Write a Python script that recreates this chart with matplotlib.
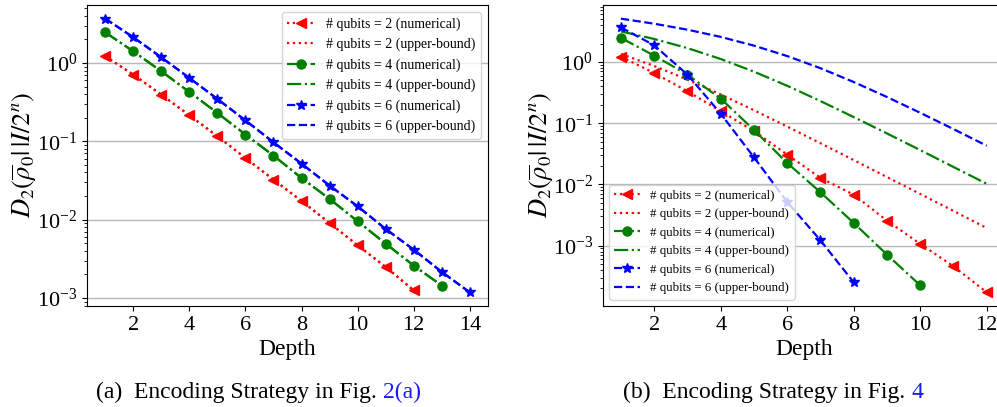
import matplotlib
matplotlib.use("Agg")
import matplotlib.pyplot as plt

plt.rcParams['font.family'] = ['Liberation Serif', 'DejaVu Serif']
plt.rcParams['mathtext.fontset'] = 'stix'

# ---------------- data: (a) Encoding Strategy in Fig. 2(a) ----------------
left_depth_q2 = [1, 2, 3, 4, 5, 6, 7, 8, 9, 10, 11, 12]
left_num_q2 = [1.22, 0.71, 0.394, 0.215, 0.116, 0.0612, 0.0324, 0.0173, 0.00906, 0.0047, 0.00249, 0.00125]
left_ub_q2 = [1.22, 0.71, 0.394, 0.215, 0.116, 0.0612, 0.0324, 0.0173, 0.00906, 0.0047, 0.00249, 0.00125]

left_depth_q4 = [1, 2, 3, 4, 5, 6, 7, 8, 9, 10, 11, 12, 13]
left_num_q4 = [2.46, 1.41, 0.783, 0.426, 0.23, 0.122, 0.0657, 0.034, 0.0184, 0.00952, 0.00494, 0.00259, 0.00144]
left_ub_q4 = [2.46, 1.41, 0.783, 0.426, 0.23, 0.122, 0.0657, 0.034, 0.0184, 0.00952, 0.00494, 0.00259, 0.00144]

left_depth_q6 = [1, 2, 3, 4, 5, 6, 7, 8, 9, 10, 11, 12, 13, 14]
left_num_q6 = [3.68, 2.13, 1.18, 0.644, 0.347, 0.185, 0.097, 0.0519, 0.0272, 0.0148, 0.0076, 0.00414, 0.00215, 0.00118]
left_ub_q6 = [3.68, 2.13, 1.18, 0.644, 0.347, 0.185, 0.097, 0.0519, 0.0272, 0.0148, 0.0076, 0.00414, 0.00215, 0.00118]

# ---------------- data: (b) Encoding Strategy in Fig. 4 ----------------
right_depth_q2 = [1, 2, 3, 4, 5, 6, 7, 8, 9, 10, 11, 12]
right_num_q2 = [1.22, 0.66, 0.332, 0.157, 0.0745, 0.0307, 0.0128, 0.0068, 0.00256, 0.00107, 0.00046, 0.000173]
right_ub_depth = [1, 2, 3, 4, 5, 6, 7, 8, 9, 10, 11, 12]
right_ub_q2 = [1.35, 0.861, 0.516, 0.295, 0.163, 0.0881, 0.0471, 0.025, 0.0132, 0.007, 0.00369, 0.00194]

right_depth_q4 = [1, 2, 3, 4, 5, 6, 7, 8, 9, 10]
right_num_q4 = [2.47, 1.27, 0.621, 0.252, 0.0775, 0.0224, 0.00745, 0.00235, 0.000714, 0.000225]
right_ub_q4 = [3.16, 2.377, 1.686, 1.119, 0.695, 0.409, 0.230, 0.126, 0.0681, 0.0364, 0.0193, 0.01025]

right_depth_q6 = [1, 2, 3, 4, 5, 6, 7, 8]
right_num_q6 = [3.67, 1.87, 0.621, 0.143, 0.0277, 0.00517, 0.00122, 0.000252]
right_ub_q6 = [5.1, 4.22, 3.37, 2.57, 1.85, 1.25, 0.791, 0.471, 0.268, 0.148, 0.0802, 0.0429]

labels = ['# qubits = 2 (numerical)', '# qubits = 2 (upper-bound)',
          '# qubits = 4 (numerical)', '# qubits = 4 (upper-bound)',
          '# qubits = 6 (numerical)', '# qubits = 6 (upper-bound)']
xlabel = 'Depth'
ylabel = r'$D_2(\overline{\rho}_0|\,|I/2^n)$'
left_xticks = [2, 4, 6, 8, 10, 12, 14]
right_xticks = [2, 4, 6, 8, 10, 12]

W, H = 997, 407
fig = plt.figure(figsize=(W / 100, H / 100), dpi=100)


def px_axes(x0, y0, x1, y1):
    return fig.add_axes([x0 / W, 1 - y1 / H, (x1 - x0) / W, (y1 - y0) / H])


axL = px_axes(87, 5, 488, 306)
axR = px_axes(602.7, 5, 1005, 306)


def draw(ax, d2, n2, u2d, u2, d4, n4, u4d, u4, d6, n6, u6d, u6, ylab_x):
    ax.plot(d2, n2, color='red', linestyle=':', marker='<', markersize=7.5, lw=1.6, label=labels[0])
    ax.plot(u2d, u2, color='red', linestyle=':', lw=1.6, label=labels[1])
    ax.plot(d4, n4, color='green', linestyle='-.', marker='o', markersize=6.5, lw=1.6, label=labels[2])
    ax.plot(u4d, u4, color='green', linestyle='-.', lw=1.6, label=labels[3])
    ax.plot(d6, n6, color='blue', linestyle='--', marker='*', markersize=7.5, lw=1.6, label=labels[4])
    ax.plot(u6d, u6, color='blue', linestyle='--', lw=1.6, label=labels[5])
    ax.set_yscale('log')
    ax.yaxis.grid(True, which='major', color='#b8b8b8', lw=1.0)
    ax.set_axisbelow(True)
    ax.tick_params(labelsize=16)
    ax.set_xlabel(xlabel, fontsize=17, labelpad=3)
    ax.set_ylabel(ylabel, fontsize=19)
    ax.yaxis.set_label_coords(ylab_x, 0.5)


draw(axL, left_depth_q2, left_num_q2, left_depth_q2, left_ub_q2,
     left_depth_q4, left_num_q4, left_depth_q4, left_ub_q4,
     left_depth_q6, left_num_q6, left_depth_q6, left_ub_q6, -0.12)
draw(axR, right_depth_q2, right_num_q2, right_ub_depth, right_ub_q2,
     right_depth_q4, right_num_q4, right_ub_depth, right_ub_q4,
     right_depth_q6, right_num_q6, right_ub_depth, right_ub_q6, -0.115)
axL.set_xticks(left_xticks)
axR.set_xticks(right_xticks)
axL.legend(loc='upper right', fontsize=10)
axR.legend(loc='lower left', fontsize=9.3)

# captions
renderer = fig.canvas.get_renderer()


def caption(x_px, black, blue):
    y = 1 - 398 / H
    t = fig.text(x_px / W, y, black, fontsize=17, va='baseline', ha='left')
    bb = t.get_window_extent(renderer)
    fig.text(bb.x1 / W, y, blue, fontsize=17, va='baseline', ha='left', color='#1a1aff')


caption(96, '(a)  Encoding Strategy in Fig. ', '2(a)')
caption(623, '(b)  Encoding Strategy in Fig. ', '4')

fig.savefig('out.png', dpi=100)
